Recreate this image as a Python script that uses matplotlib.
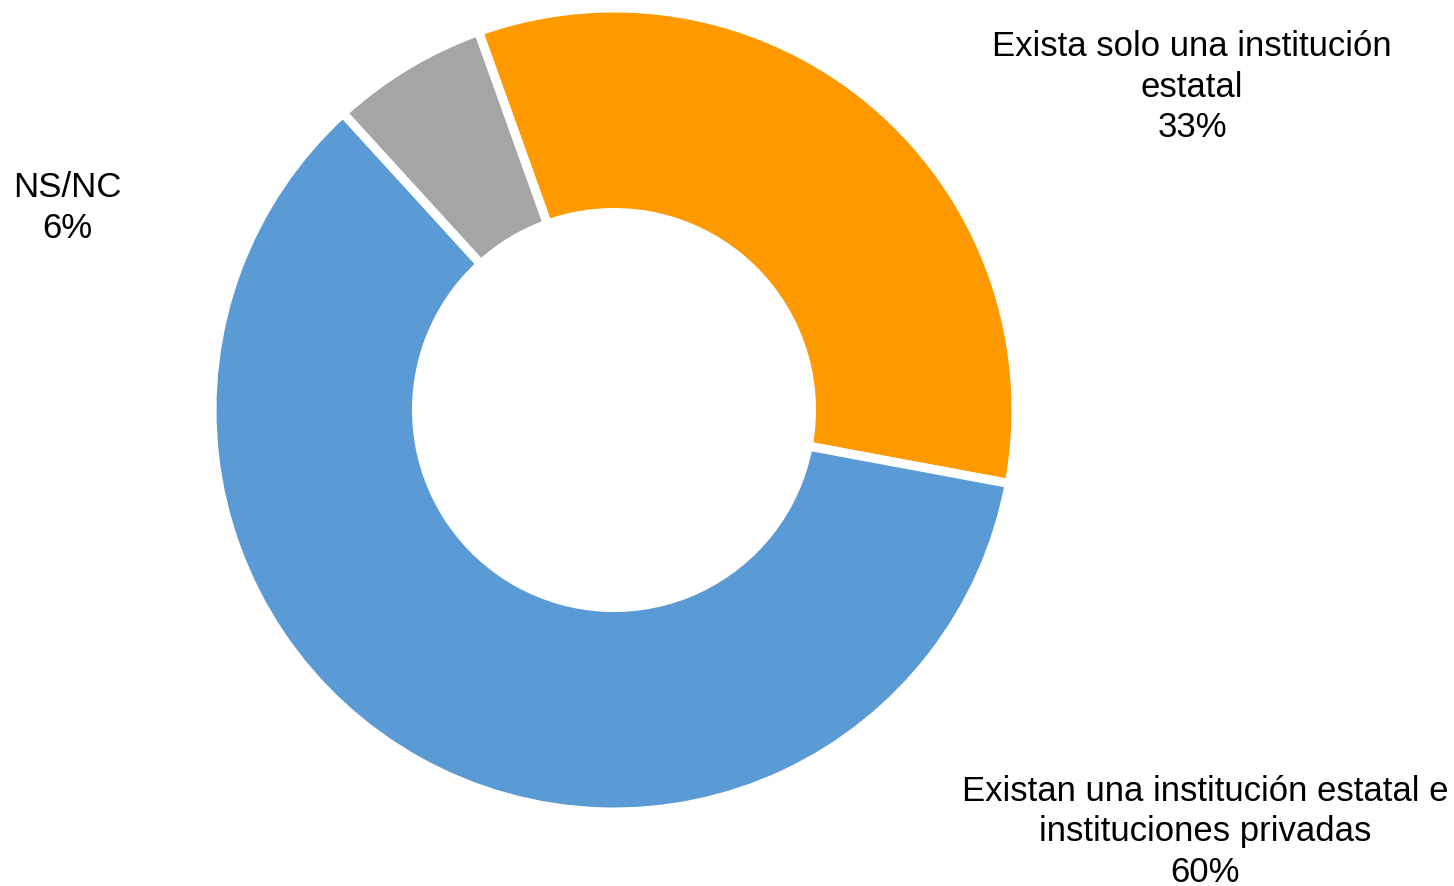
import matplotlib.pyplot as plt

plt.rcParams['font.family'] = ['Liberation Sans', 'DejaVu Sans']

categories = ['Exista solo una institución\nestatal',
              'Existan una institución estatal e\ninstituciones privadas',
              'NS/NC']
values = [33.4, 60.3, 6.3]
pct_labels = ['33%', '60%', '6%']
colors = ['#FF9900', '#5B9BD5', '#A5A5A5']

W, H = 1454, 886
fig = plt.figure(figsize=(W / 100, H / 100), dpi=100)
ax = fig.add_axes([0, 0, 1, 1])

ax.pie(values, colors=colors, startangle=109.7, counterclock=False,
       center=(614, H - 410), radius=402,
       wedgeprops=dict(width=204.5, edgecolor='white', linewidth=6.5))

ax.set_xlim(0, W)
ax.set_ylim(0, H)
ax.set_aspect('equal')
ax.axis('off')

# label positions (pixels from the top-left, like the original)
label_pos = [(1192, 87), (1205, 832), (67, 208)]
for cat, pct, (x, y) in zip(categories, pct_labels, label_pos):
    ax.text(x, H - y, f'{cat}\n{pct}', ha='center', va='center',
            multialignment='center', fontsize=25, linespacing=1.27,
            color='black')

fig.savefig('out.png', dpi=100)
